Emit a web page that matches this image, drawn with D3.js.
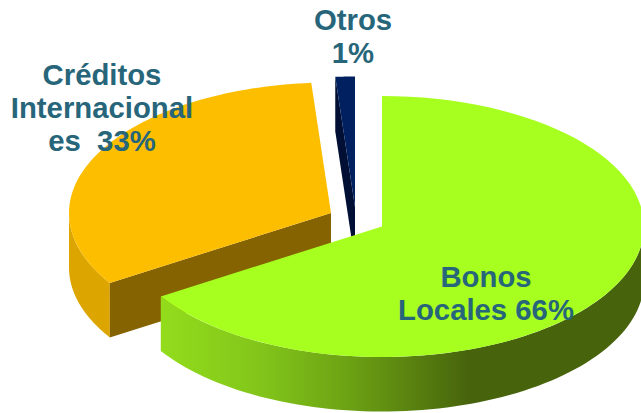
<!DOCTYPE html>
<html>
<head>
<meta charset="utf-8">
<script src="https://cdn.jsdelivr.net/npm/d3@7"></script>
<style>
  html, body { margin: 0; padding: 0; background: #fff; overflow: hidden; }
  text { font-family: "Liberation Sans", Arial, sans-serif; font-weight: bold; fill: #27667a; text-anchor: middle; }
</style>
</head>
<body>
<div id="chart"></div>
<script>
// datos (las etiquetas van redondeadas)
const categories = ['Bonos Locales', 'Créditos Internacionales', 'Otros'];
const values = [66, 32.8, 1.2];
const labelLines = [
    ['Bonos', 'Locales 66%'],
    ['Créditos', 'Internacional', 'es  33%'],
    ['Otros', '1%']
];

const topColors = ['#a6ff1e', '#fdbe00', '#002060'];

const width = 641, height = 413;
const rx = 262, ry = 130.5, depth = 54.5;

// cada porcion esta separada del centro
const centers = [[382, 226.5], [331, 213], [355, 207]];
const labelPos = [[486, 287], [102, 85], [353, 30]];
const lineHeight = 33;

const svg = d3.select('#chart').append('svg')
    .attr('width', width)
    .attr('height', height);

const grad = svg.append('defs').append('linearGradient')
    .attr('id', 'greenWall')
    .attr('gradientUnits', 'userSpaceOnUse')
    .attr('x1', 162).attr('x2', 641).attr('y1', 0).attr('y2', 0);
[[0, '#92dc1c'], [0.2, '#83c61a'], [0.38, '#6da414'], [0.5, '#5c8710'], [0.64, '#47640c'], [1, '#47640c']]
    .forEach(s => grad.append('stop').attr('offset', s[0]).attr('stop-color', s[1]));

const pie = d3.pie().sort(null).value(d => d)(values);

function rim(c, a, dy) {
    return [c[0] + rx * Math.sin(a), c[1] - ry * Math.cos(a) + (dy || 0)];
}
function samples(a0, a1) {
    const n = 80;
    return d3.range(n + 1).map(i => a0 + (a1 - a0) * i / n);
}
const line = d3.line();

// cara superior
function topPath(i) {
    const c = centers[i], p = pie[i];
    return line([c].concat(samples(p.startAngle, p.endAngle).map(a => rim(c, a)))) + 'Z';
}
// pared curva exterior
function wallPath(i, a0, a1) {
    const c = centers[i];
    const s = samples(a0, a1);
    return line(s.map(a => rim(c, a)).concat(s.slice().reverse().map(a => rim(c, a, depth)))) + 'Z';
}
// pared del corte radial
function cutPath(i, a) {
    const c = centers[i];
    return line([c, rim(c, a), rim(c, a, depth), [c[0], c[1] + depth]]) + 'Z';
}

const orange = pie[1], blue = pie[2], green = pie[0];

// naranja
svg.append('path').attr('d', wallPath(1, orange.startAngle, 1.5 * Math.PI)).attr('fill', '#dda500');
svg.append('path').attr('d', cutPath(1, orange.startAngle)).attr('fill', '#856300');
svg.append('path').attr('d', topPath(1)).attr('fill', topColors[1]);

// azul
svg.append('path').attr('d', cutPath(2, blue.startAngle)).attr('fill', '#000f33');
svg.append('path').attr('d', topPath(2)).attr('fill', topColors[2]);

// verde
svg.append('path').attr('d', wallPath(0, 0.5 * Math.PI, green.endAngle)).attr('fill', 'url(#greenWall)');
svg.append('path').attr('d', topPath(0)).attr('fill', topColors[0]);

// etiquetas
labelLines.forEach((lines, i) => {
    const t = svg.append('text')
        .attr('font-size', 29.3)
        .attr('aria-label', categories[i])
        .attr('transform', 'translate(' + labelPos[i] + ')');
    lines.forEach((l, j) => {
        t.append('tspan')
            .attr('x', 0)
            .attr('y', j * lineHeight)
            .attr('xml:space', 'preserve')
            .style('white-space', 'pre')
            .text(l);
    });
});
</script>
</body>
</html>
